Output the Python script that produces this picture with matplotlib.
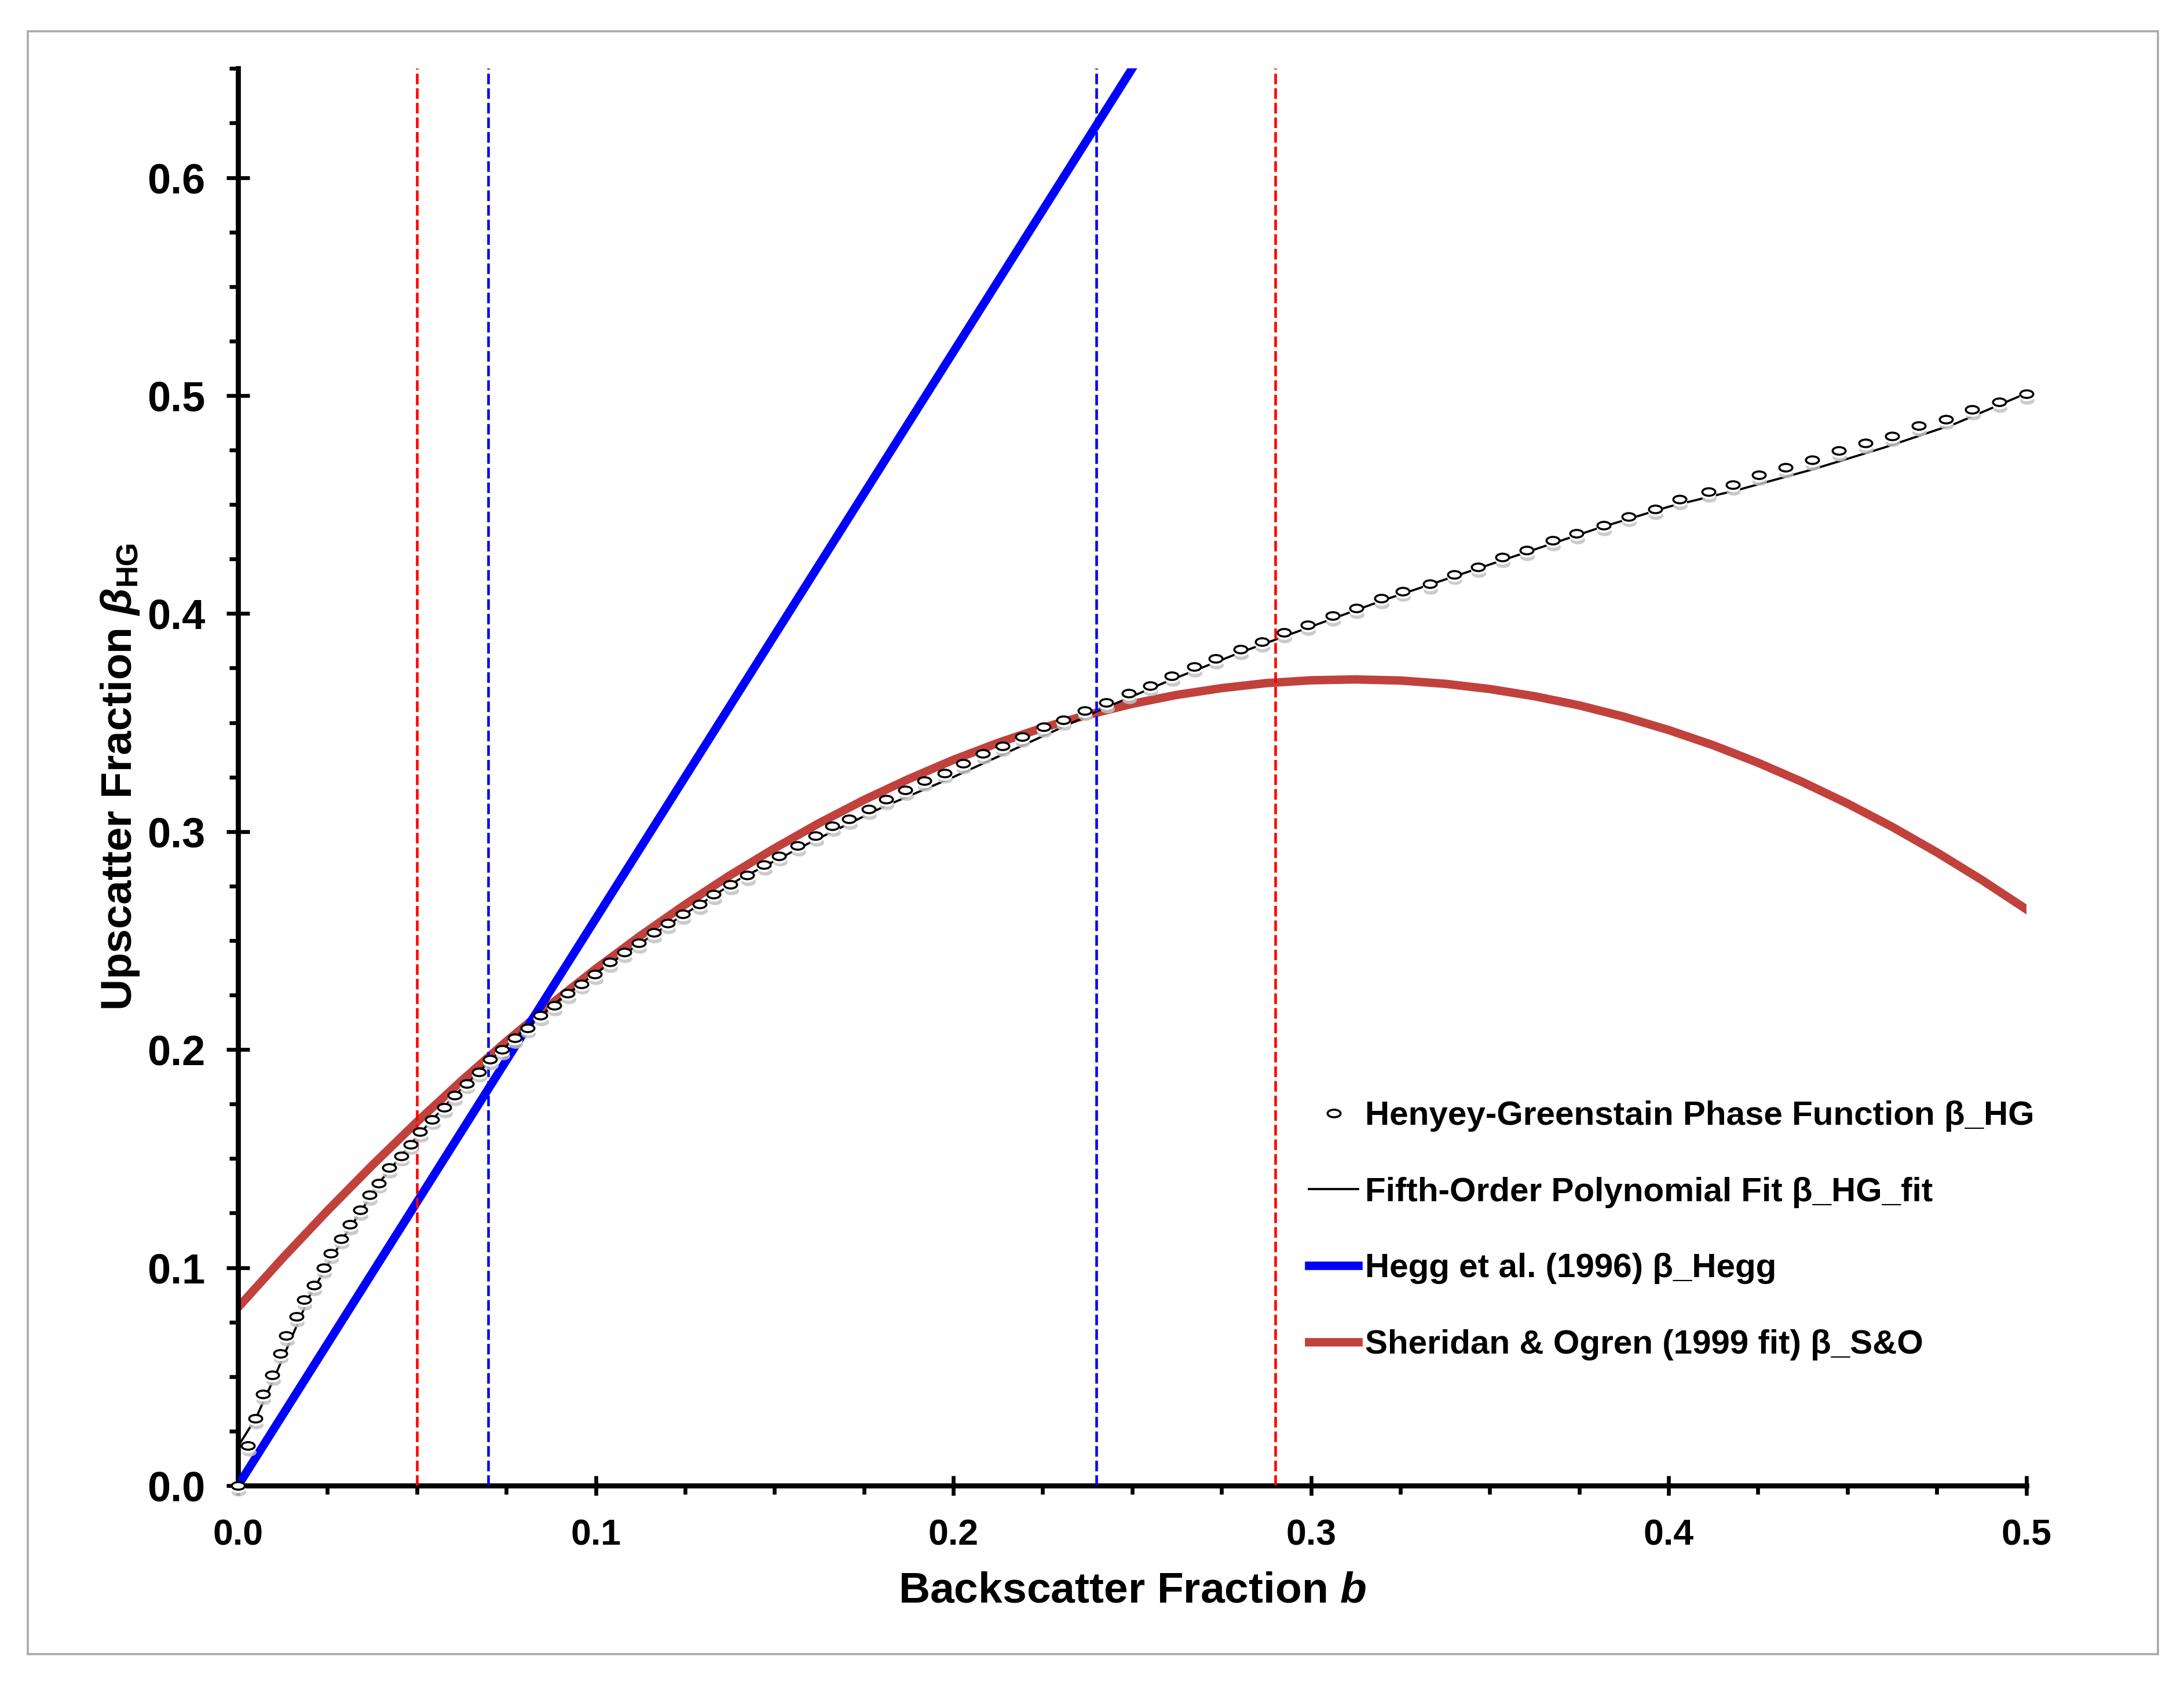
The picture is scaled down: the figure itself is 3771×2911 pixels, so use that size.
import matplotlib
matplotlib.use('Agg')
import matplotlib.pyplot as plt
from matplotlib.path import Path
from matplotlib.transforms import Affine2D, offset_copy
from matplotlib.ticker import MultipleLocator, FormatStrFormatter
from matplotlib.patches import Rectangle

plt.rcParams['font.family'] = ['Liberation Sans', 'DejaVu Sans']
plt.rcParams['font.weight'] = 'bold'
plt.rcParams['mathtext.fontset'] = 'custom'
plt.rcParams['mathtext.rm'] = 'Liberation Sans:bold'
plt.rcParams['mathtext.it'] = 'Liberation Sans:italic:bold'
plt.rcParams['mathtext.bf'] = 'Liberation Sans:bold'

# Henyey-Greenstain points
hg_b = [0.0000, 0.0028, 0.0048, 0.0069, 0.0096, 0.0118, 0.0135, 0.0163, 0.0184, 0.0212,
        0.0239, 0.0259, 0.0288, 0.0313, 0.0341, 0.0368, 0.0393, 0.0422, 0.0456, 0.0482,
        0.0509, 0.0543, 0.0577, 0.0606, 0.0640, 0.0673, 0.0705, 0.0738, 0.0774, 0.0809,
        0.0846, 0.0884, 0.0922, 0.0960, 0.0998, 0.1040, 0.1080, 0.1120, 0.1162, 0.1202,
        0.1243, 0.1290, 0.1330, 0.1377, 0.1424, 0.1471, 0.1513, 0.1565, 0.1615, 0.1662,
        0.1709, 0.1763, 0.1812, 0.1866, 0.1919, 0.1975, 0.2027, 0.2083, 0.2137, 0.2192,
        0.2252, 0.2307, 0.2368, 0.2428, 0.2490, 0.2551, 0.2611, 0.2673, 0.2734, 0.2803,
        0.2863, 0.2924, 0.2991, 0.3060, 0.3127, 0.3196, 0.3257, 0.3332, 0.3400, 0.3467,
        0.3535, 0.3603, 0.3676, 0.3743, 0.3819, 0.3888, 0.3962, 0.4031, 0.4111, 0.4179,
        0.4253, 0.4327, 0.4402, 0.4476, 0.4550, 0.4625, 0.4699, 0.4775, 0.4849, 0.4925,
        0.5000]
hg_beta = [0.0000, 0.0182, 0.0307, 0.0419, 0.0508, 0.0607, 0.0687, 0.0775, 0.0852, 0.0920,
           0.0998, 0.1065, 0.1133, 0.1199, 0.1265, 0.1334, 0.1388, 0.1458, 0.1513, 0.1566,
           0.1623, 0.1680, 0.1734, 0.1790, 0.1845, 0.1898, 0.1955, 0.2001, 0.2054, 0.2100,
           0.2156, 0.2202, 0.2257, 0.2302, 0.2346, 0.2401, 0.2446, 0.2490, 0.2537, 0.2579,
           0.2623, 0.2667, 0.2713, 0.2757, 0.2801, 0.2847, 0.2889, 0.2935, 0.2981, 0.3025,
           0.3058, 0.3102, 0.3148, 0.3190, 0.3234, 0.3269, 0.3313, 0.3358, 0.3392, 0.3435,
           0.3480, 0.3513, 0.3556, 0.3591, 0.3635, 0.3670, 0.3714, 0.3757, 0.3793, 0.3835,
           0.3871, 0.3914, 0.3947, 0.3991, 0.4024, 0.4070, 0.4103, 0.4137, 0.4180, 0.4214,
           0.4258, 0.4291, 0.4335, 0.4368, 0.4404, 0.4446, 0.4479, 0.4525, 0.4559, 0.4591,
           0.4635, 0.4671, 0.4705, 0.4748, 0.4782, 0.4814, 0.4861, 0.4892, 0.4937, 0.4971,
           0.5007]

# fifth-order polynomial fit curve
fit_b = [0.0, 0.005, 0.01, 0.02, 0.03, 0.04, 0.05, 0.06, 0.07, 0.08, 0.09, 0.10,
         0.12, 0.14, 0.16, 0.18, 0.20, 0.22, 0.24, 0.26, 0.28, 0.30, 0.32, 0.34,
         0.36, 0.38, 0.40, 0.42, 0.44, 0.46, 0.48, 0.49, 0.50]
fit_beta = [0.018, 0.031, 0.049, 0.087, 0.115, 0.140, 0.160, 0.178, 0.194, 0.209, 0.223, 0.235,
            0.257, 0.278, 0.295, 0.311, 0.325, 0.340, 0.355, 0.369, 0.382, 0.394, 0.406, 0.417,
            0.428, 0.439, 0.449, 0.457, 0.466, 0.476, 0.487, 0.494, 0.501]

# Sheridan & Ogren curve
so_b = [0.0, 0.0125, 0.025, 0.0375, 0.05, 0.0625, 0.075, 0.0875, 0.1, 0.1125, 0.125,
        0.1375, 0.15, 0.1625, 0.175, 0.1875, 0.2, 0.2125, 0.225, 0.2375, 0.25,
        0.2625, 0.275, 0.2875, 0.3, 0.3125, 0.325, 0.3375, 0.35, 0.3625, 0.375,
        0.3875, 0.4, 0.4125, 0.425, 0.4375, 0.45, 0.4625, 0.475, 0.4875, 0.5]
so_beta = [0.0817, 0.1044, 0.1261, 0.1469, 0.1668, 0.1857, 0.2037, 0.2208, 0.2370, 0.2522, 0.2665,
           0.2799, 0.2923, 0.3039, 0.3145, 0.3241, 0.3329, 0.3407, 0.3476, 0.3535, 0.3586,
           0.3627, 0.3658, 0.3681, 0.3694, 0.3698, 0.3693, 0.3678, 0.3654, 0.3621, 0.3579,
           0.3527, 0.3466, 0.3396, 0.3316, 0.3227, 0.3129, 0.3022, 0.2905, 0.2779, 0.2644]

# Hegg et al. line
hegg_b = [0.0, 0.26]
hegg_beta = [0.0, 0.676]

# dashed reference lines
red_lines = [0.05, 0.29]
blue_lines = [0.07, 0.24]

labels = ['Henyey-Greenstain Phase Function β_HG',
          'Fifth-Order Polynomial Fit β_HG_fit',
          'Hegg et al. (1996) β_Hegg',
          'Sheridan & Ogren (1999 fit) β_S&O']

fig = plt.figure(figsize=(3771 / 300, 2911 / 300), dpi=300)
ax = fig.add_axes([0.10899, 0.11886, 0.81875, 0.84047])

ellipse = Path.unit_circle().transformed(Affine2D().scale(1.0, 0.58))

l_so, = ax.plot(so_b, so_beta, color='#c1413d', lw=3.5, zorder=2)
l_hegg, = ax.plot(hegg_b, hegg_beta, color='#0000ff', lw=3.5, zorder=3)
l_fit, = ax.plot(fit_b, fit_beta, color='black', lw=0.9, zorder=4)

for x in red_lines:
    ax.axvline(x, color='#ff0000', lw=1.1, ls=(0, (4, 1.5)), zorder=4.5)
for x in blue_lines:
    ax.axvline(x, color='#0000ff', lw=1.1, ls=(0, (4, 1.5)), zorder=4.5)

# marker drop shadow
sh = offset_copy(ax.transData, fig=fig, x=0.3, y=-2.6, units='points')
ax.plot(hg_b, hg_beta, ls='none', marker=ellipse, ms=6.0, mfc='#c2c2c2', mec='none',
        alpha=0.85, transform=sh, zorder=5, clip_on=False)
wh = offset_copy(ax.transData, fig=fig, x=0.0, y=-1.2, units='points')
ax.plot(hg_b, hg_beta, ls='none', marker=ellipse, ms=6.0, mfc='white', mec='none',
        transform=wh, zorder=5.1, clip_on=False)
l_hg, = ax.plot(hg_b, hg_beta, ls='none', marker=ellipse, ms=5.4, mfc='white', mec='black',
                mew=0.85, zorder=6, clip_on=False)

ax.set_xlim(0, 0.5)
ax.set_ylim(0, 0.65)
ax.spines['top'].set_visible(False)
ax.spines['right'].set_visible(False)
ax.spines['left'].set_linewidth(2.1)
ax.spines['bottom'].set_linewidth(2.1)

ax.xaxis.set_major_locator(MultipleLocator(0.1))
ax.xaxis.set_minor_locator(MultipleLocator(0.025))
ax.yaxis.set_major_locator(MultipleLocator(0.1))
ax.yaxis.set_minor_locator(MultipleLocator(0.025))
ax.xaxis.set_major_formatter(FormatStrFormatter('%.1f'))
ax.yaxis.set_major_formatter(FormatStrFormatter('%.1f'))

ax.tick_params(axis='x', which='major', direction='inout', length=8, width=1.6, pad=9.5, labelsize=15)
ax.tick_params(axis='y', which='major', direction='inout', length=9.4, width=1.6, pad=9, labelsize=17.3)
ax.tick_params(which='minor', direction='out', length=3.6, width=1.6)

ax.set_xlabel(r'Backscatter Fraction $b$', fontsize=18, fontweight='bold', labelpad=7.7)
ax.set_ylabel(r'Upscatter Fraction $\beta_{\mathrm{HG}}$', fontsize=18, fontweight='bold', labelpad=2.4)

ax.legend([l_hg, l_fit, l_hegg, l_so], labels, loc='center left', bbox_to_anchor=(0.599, 0.180),
          frameon=False, fontsize=14, handlelength=1.45, handletextpad=0.2, labelspacing=1.33,
          borderpad=0, borderaxespad=0, numpoints=1)

fig.patches.append(Rectangle((0.01265, 0.01889), 0.97541, 0.9627, transform=fig.transFigure,
                             fill=False, ec='#a9a9a9', lw=0.87))

fig.savefig('out.png', dpi=300)
